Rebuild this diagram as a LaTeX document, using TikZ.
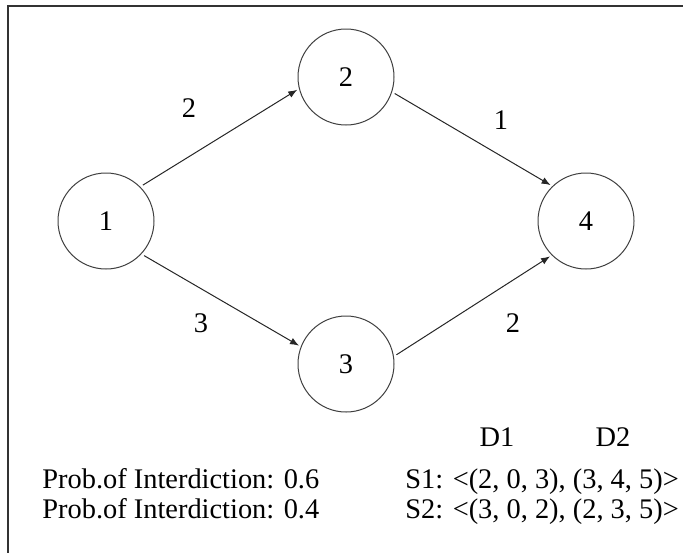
\documentclass[tikz,border=0pt]{standalone}
\usepackage{fontspec}
\setmainfont{Liberation Serif}
\usetikzlibrary{positioning,arrows.meta}

\begin{document}
\begin{tikzpicture}[
  x=0.5pt, y=-0.5pt,
  every node/.style={font=\fontsize{14.2pt}{17pt}\selectfont, inner sep=0pt},
  vertex/.style={shape=circle, draw=black!75, line width=0.5pt, minimum size=48pt},
  link/.style={draw=black!85, line width=0.5pt, -{Latex[length=4.5pt,width=3.5pt]}, shorten <=1.5pt, shorten >=1pt},
  row/.style={anchor=base west}
]
  \useasboundingbox (0,0) rectangle (683,552);
  \clip (0,0) rectangle (683,552);
  % Frame
  \draw[black!80, line width=0.6pt] (8,6) rectangle (720,600);

  % Nodes
  \node[vertex] (n1) at (106,221) {1};
  \node[vertex] (n2) at (346,77) {2};
  \node[vertex] (n3) at (346,364) {3};
  \node[vertex] (n4) at (586,221) {4};

  % Arcs
  \draw[link] (n1.45) -- (n2.194);
  \draw[link] (n2.-18) -- (n4.134);
  \draw[link] (n1.-43) -- (n3.159);
  \draw[link] (n3.9) -- (n4.225);

  % Arc weights
  \node (w12) at (189,108) {2};
  \node (w24) at (501,120) {1};
  \node (w13) at (201,323) {3};
  \node (w34) at (513,323) {2};

  % Scenarios
  \node[anchor=base] (d1) at (497,446) {D1};
  \node[anchor=base] (d2) at (613,446) {D2};
  \node[row] (p1) at (42,488) {Prob.of Interdiction: 0.6};
  \node[row] (p2) at (42,518) {Prob.of Interdiction: 0.4};
  \node[row] (s1) at (405,488) {S1: <(2, 0, 3), (3, 4, 5)>};
  \node[row] (s2) at (405,518) {S2: <(3, 0, 2), (2, 3, 5)>};
\end{tikzpicture}
\end{document}
